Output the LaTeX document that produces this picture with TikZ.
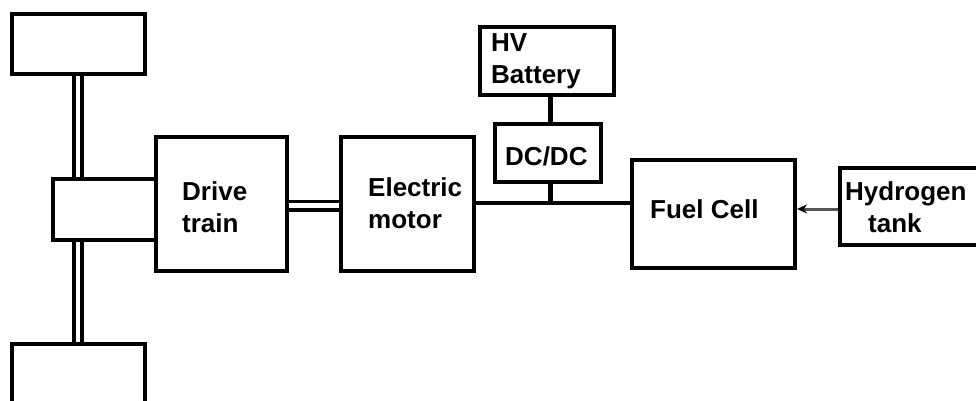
\documentclass[tikz,border=0pt]{standalone}
\usepackage{fontspec}
\setmainfont{Liberation Sans}
\usetikzlibrary{arrows.meta}
\definecolor{arrowgray}{HTML}{555555}
\begin{document}
\begin{tikzpicture}[x=1pt,y=-1pt,
  blk/.style={draw=black,line width=4pt,rectangle,inner sep=0pt,fill=none},
  lbl/.style={inner sep=0pt,anchor=base west,align=left,font=\fontsize{26}{32}\selectfont\bfseries},
  conn/.style={line width=4.5pt},
  shaft/.style={line width=4pt}]
\useasboundingbox (0,0) rectangle (976,401);
% boxes
\node[blk,minimum width=133.5pt,minimum height=60.5pt] (wheeltop) at (78.25,44) {};
\node[blk,minimum width=133.5pt,minimum height=80pt] (wheelbot) at (78.25,383.5) {};
\node[blk,minimum width=103.5pt,minimum height=61.5pt] (hub) at (104.25,209.25) {};
\node[blk,minimum width=131pt,minimum height=134.5pt] (drive) at (221.5,204) {};
\node[blk,minimum width=133pt,minimum height=134.5pt] (motor) at (407.5,204) {};
\node[blk,minimum width=134pt,minimum height=68pt] (batt) at (547,61.5) {};
\node[blk,minimum width=106pt,minimum height=58pt] (dcdc) at (548,152.5) {};
\node[blk,minimum width=163pt,minimum height=108.5pt] (fc) at (713.5,213.75) {};
\node[blk,minimum width=170pt,minimum height=77pt] (h2) at (925,206.5) {};
% texts (base anchor = baseline of last line)
\node[lbl] (tdrive) at (182,232) {Drive\\train};
\node[lbl] (tmotor) at (368,228) {Electric\\motor};
\node[lbl] (tbatt) at (491,84) {HV\\Battery};
\node[lbl] (tdcdc) at (505,165) {DC/DC};
\node[lbl] (tfc) at (650,218) {Fuel Cell};
\node[lbl] (th2a) at (845,200) {Hydrogen};
\node[lbl] (th2b) at (868,232) {tank};
% axles
\draw[shaft] ([xshift=-4pt]wheeltop.south) -- ([xshift=-4pt]wheeltop.south |- hub.north);
\draw[shaft] ([xshift=4pt]wheeltop.south) -- ([xshift=4pt]wheeltop.south |- hub.north);
\draw[shaft] ([xshift=-4pt]wheeltop.south |- hub.south) -- ([xshift=-4pt]wheelbot.north);
\draw[shaft] ([xshift=4pt]wheeltop.south |- hub.south) -- ([xshift=4pt]wheelbot.north);
% drive shaft
\coordinate (shaftA) at (0,201.5);
\coordinate (shaftB) at (0,210);
\draw[line width=3.2pt] (drive.east |- shaftA) -- (motor.west |- shaftA);
\draw[line width=3.2pt] (drive.east |- shaftB) -- (motor.west |- shaftB);
% electrical bus
\coordinate (bus) at (550.5,203);
\draw[conn] (batt.south -| bus) -- (dcdc.north -| bus);
\draw[conn] (dcdc.south -| bus) -- (bus);
\draw[conn] (motor.east |- bus) -- (fc.west |- bus);
% hydrogen feed
\coordinate (feed) at (0,209);
\draw[line width=3pt,arrowgray,-{Stealth[length=10pt,width=9pt,black]}] (h2.west |- feed) -- (fc.east |- feed);
\end{tikzpicture}
\end{document}
